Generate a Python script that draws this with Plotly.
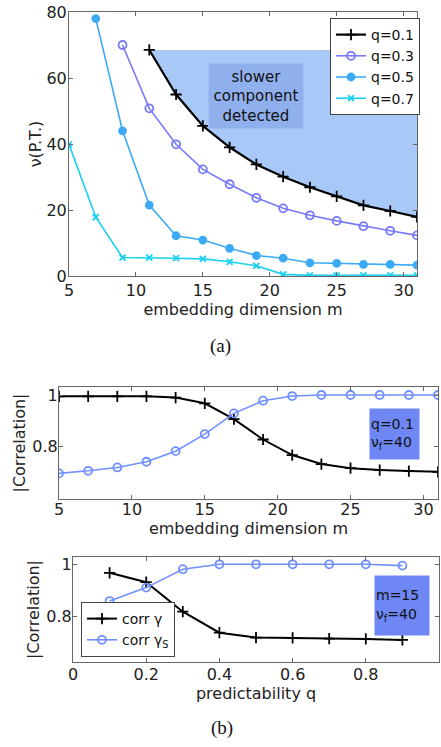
import plotly.graph_objects as go

# ---------------- data ----------------
m_vals = [5, 7, 9, 11, 13, 15, 17, 19, 21, 23, 25, 27, 29, 31]

m_q01 = [11, 13, 15, 17, 19, 21, 23, 25, 27, 29, 31]
nu_q01 = [68.5, 55, 45.5, 39, 33.8, 30.1, 26.9, 24.1, 21.4, 19.7, 17.9]
m_q03 = [9, 11, 13, 15, 17, 19, 21, 23, 25, 27, 29, 31]
nu_q03 = [70, 50.8, 39.9, 32.3, 27.8, 23.7, 20.5, 18.4, 16.7, 15.1, 13.7, 12.3]
m_q05 = [7, 9, 11, 13, 15, 17, 19, 21, 23, 25, 27, 29, 31]
nu_q05 = [78, 44, 21.5, 12.2, 10.9, 8.4, 6.2, 5.4, 4.0, 3.8, 3.5, 3.5, 3.3]
m_q07 = [5, 7, 9, 11, 13, 15, 17, 19, 21, 23, 25, 27, 29, 31]
nu_q07 = [39.9, 17.8, 5.6, 5.6, 5.4, 5.2, 4.3, 3.1, 0.5, 0.2, 0.2, 0.2, 0.2, 0.2]

corr_g_m = [0.995, 0.995, 0.995, 0.995, 0.99, 0.968, 0.907, 0.828, 0.768, 0.733, 0.717, 0.71, 0.706, 0.703]
corr_gs_m = [0.697, 0.707, 0.72, 0.742, 0.783, 0.849, 0.929, 0.978, 0.996, 1.0, 1.0, 1.0, 1.0, 1.0]

q_vals = [0.1, 0.2, 0.3, 0.4, 0.5, 0.6, 0.7, 0.8, 0.9]
corr_g_q = [0.967, 0.931, 0.817, 0.736, 0.717, 0.716, 0.713, 0.712, 0.708]
corr_gs_q = [0.858, 0.91, 0.981, 1.0, 1.0, 1.0, 1.0, 1.0, 0.995]

legend_q = ["q=0.1", "q=0.3", "q=0.5", "q=0.7"]
col_q = ["#000000", "#7878fa", "#3caaf5", "#19d0f0"]

W, H = 441, 747
FONT = "DejaVu Sans, Verdana, sans-serif"
SERIF = "Liberation Serif, Times New Roman, serif"

def px_x(p):
    return p / W

def px_y(p):
    return 1 - p / H

fig = go.Figure()

# shaded region (q=0.1 curve up to its first value)
top_val = nu_q01[0]
fx = [m_q01[0], m_q01[-1]] + m_q01[::-1]
fy = [top_val, top_val] + nu_q01[::-1]
fig.add_trace(go.Scatter(x=fx, y=fy, fill="toself", mode="none",
                         fillcolor="rgb(168,200,248)", showlegend=False,
                         xaxis="x", yaxis="y", hoverinfo="skip"))

series = [(m_q01, nu_q01, "cross-thin", 8),
          (m_q03, nu_q03, "circle-open", 8),
          (m_q05, nu_q05, "circle", 7),
          (m_q07, nu_q07, "x-thin", 6)]
for (mx, ny, sym, sz), name, c in zip(series, legend_q, col_q):
    fig.add_trace(go.Scatter(x=mx, y=ny, name=name, mode="lines+markers",
                             line=dict(color=c, width=2.2 if c == "#000000" else 1.6),
                             marker=dict(symbol=sym, size=sz, color=c,
                                         line=dict(color=c, width=1.8)),
                             xaxis="x", yaxis="y", legend="legend"))

blue2 = "#7090ff"
# middle
fig.add_trace(go.Scatter(x=m_vals, y=corr_g_m, mode="lines+markers", showlegend=False,
                         line=dict(color="black", width=2),
                         marker=dict(symbol="cross-thin", size=8, line=dict(color="black", width=1.8)),
                         xaxis="x2", yaxis="y2"))
fig.add_trace(go.Scatter(x=m_vals, y=corr_gs_m, mode="lines+markers", showlegend=False,
                         line=dict(color=blue2, width=1.6),
                         marker=dict(symbol="circle-open", size=8, color=blue2, line=dict(color=blue2, width=1.8)),
                         xaxis="x2", yaxis="y2"))
# bottom
fig.add_trace(go.Scatter(x=q_vals, y=corr_g_q, mode="lines+markers", name="corr γ",
                         line=dict(color="black", width=2),
                         marker=dict(symbol="cross-thin", size=8, line=dict(color="black", width=1.8)),
                         xaxis="x3", yaxis="y3", legend="legend2"))
fig.add_trace(go.Scatter(x=q_vals, y=corr_gs_q, mode="lines+markers", name="corr γ<sub>S</sub>",
                         line=dict(color=blue2, width=1.6),
                         marker=dict(symbol="circle-open", size=8, color=blue2, line=dict(color=blue2, width=1.8)),
                         xaxis="x3", yaxis="y3", legend="legend2"))

axcommon = dict(showline=True, linecolor="#666666", linewidth=1, mirror="ticks",
                ticks="inside", ticklen=4, tickcolor="#666666", showgrid=False,
                zeroline=False, automargin=False,
                tickfont=dict(size=16, color="#222222", family=FONT))
ttl = dict(size=16, family=FONT, color="#222222")

fig.update_layout(
    width=W, height=H, margin=dict(l=0, r=0, t=0, b=0, autoexpand=False),
    paper_bgcolor="white", plot_bgcolor="white",
    font=dict(family=FONT, color="#222222"),
    xaxis=dict(domain=[px_x(69), px_x(417)], range=[5, 31], tickvals=[5, 10, 15, 20, 25, 30],
               anchor="y", ticklabelstandoff=0,
               title=dict(text="embedding dimension m", standoff=0, font=ttl), **axcommon),
    yaxis=dict(domain=[px_y(276), px_y(12)], range=[0, 80], tickvals=[0, 20, 40, 60, 80],
               anchor="x", ticklabelstandoff=-2,
               title=dict(text="ν(P.T.)", standoff=0, font=ttl), **axcommon),
    xaxis2=dict(domain=[px_x(59), px_x(438)], range=[5, 31], tickvals=[5, 10, 15, 20, 25, 30],
                anchor="y2", ticklabelstandoff=-4,
                title=dict(text="embedding dimension m", standoff=0, font=ttl), **axcommon),
    yaxis2=dict(domain=[px_y(499), px_y(387)], range=[0.598, 1.031], tickvals=[0.8, 1], ticktext=["0.8", "1"],
                anchor="x2", ticklabelstandoff=-3,
                title=dict(text="|Correlation|", standoff=2, font=ttl), **axcommon),
    xaxis3=dict(domain=[px_x(73), px_x(439)], range=[0, 1], tickvals=[0, 0.2, 0.4, 0.6, 0.8, 1],
                ticktext=["0", "0.2", "0.4", "0.6", "0.8", "1"],
                anchor="y3", ticklabelstandoff=-2,
                title=dict(text="predictability q", standoff=0, font=ttl), **axcommon),
    yaxis3=dict(domain=[px_y(661.7), px_y(557.3)], range=[0.624, 1.027], tickvals=[0.8, 1], ticktext=["0.8", "1"],
                anchor="x3", ticklabelstandoff=-3,
                title=dict(text="|Correlation|", standoff=2, font=ttl), **axcommon),
    legend=dict(x=px_x(330), y=px_y(18), xanchor="left", yanchor="top",
                bgcolor="white", bordercolor="#444444", borderwidth=1,
                font=dict(size=14, family=FONT, color="#111111"), itemwidth=30,
                tracegroupgap=0),
    legend2=dict(x=px_x(81), y=px_y(602), xanchor="left", yanchor="top",
                 bgcolor="white", bordercolor="#444444", borderwidth=1,
                 font=dict(size=14, family=FONT, color="#111111"), itemwidth=30),
    showlegend=True,
)

# annotations
ann = dict(xref="paper", yref="paper", showarrow=False, xanchor="center", yanchor="middle")
fig.add_annotation(x=px_x(256), y=px_y(95.5),
                   text="slower<br>component<br>detected",
                   font=dict(size=15, family=FONT, color="#111111"),
                   bgcolor="rgb(143,176,236)", bordercolor="rgb(160,190,245)", borderwidth=1,
                   width=92, height=62, align="center", **ann)
fig.add_annotation(x=px_x(394.5), y=px_y(434),
                   text="q=0.1<br>ν<sub>f</sub>=40",
                   font=dict(size=14, family=FONT, color="#111111"),
                   bgcolor="rgb(110,135,245)", width=47, height=48, align="left", **ann)
fig.add_annotation(x=px_x(402), y=px_y(605.5),
                   text="m=15<br>ν<sub>f</sub>=40",
                   font=dict(size=14, family=FONT, color="#111111"),
                   bgcolor="rgb(110,135,245)", width=52, height=57, align="left", **ann)
fig.add_annotation(x=px_x(221), y=px_y(346),
                   text="(a)",
                   font=dict(size=19, family=SERIF, color="#111111"), **ann)
fig.add_annotation(x=px_x(222), y=px_y(728),
                   text="(b)",
                   font=dict(size=19, family=SERIF, color="#111111"), **ann)

fig.write_html("out.html")
